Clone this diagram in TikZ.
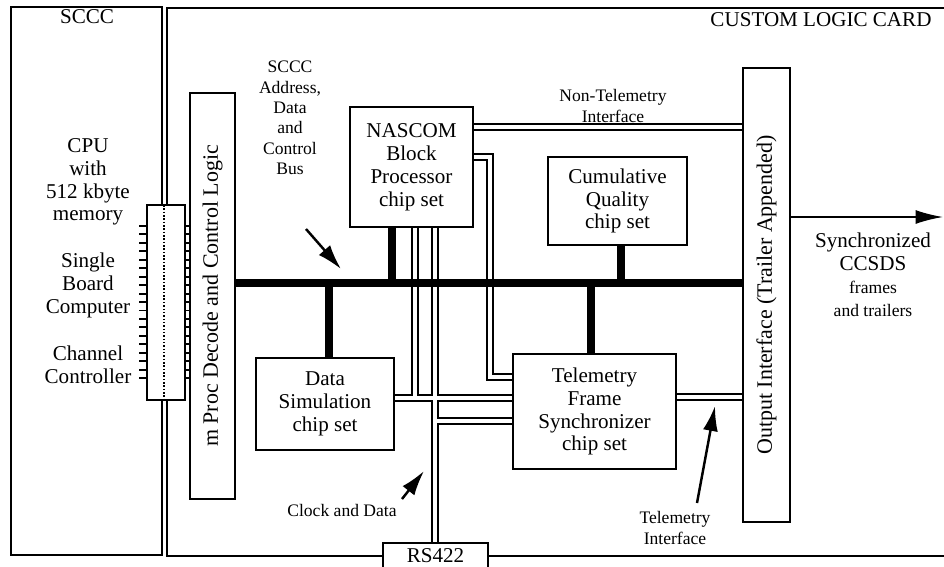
\documentclass[tikz,border=0pt]{standalone}
\usepackage{fontspec}
\setmainfont{Liberation Serif}
\usepackage{tikz}
\usetikzlibrary{arrows.meta, backgrounds}
\tikzset{
  blk/.style    ={draw, fill=white, line width=0.9pt, inner sep=0pt, outer sep=0pt, align=center, font=\fontsize{12}{13}\selectfont},
  vblk/.style   ={blk, rotate=90, font=\fontsize{12.5}{14}\selectfont},   % tall box, text runs upward
  lbl/.style    ={align=center, font=\fontsize{12}{13}\selectfont},
  sml/.style    ={align=center, font=\fontsize{10}{11.6}\selectfont},
  busln/.style  ={line width=4.2pt},                                     % SCCC bus
  tapln/.style  ={line width=4.6pt},                                     % chip set -> bus
  dblout/.style ={line width=4.2pt},                                     % interface lines, outer pass
  dblin/.style  ={line width=2.2pt, white},                              % interface lines, inner pass
  tick/.style   ={line width=1.1pt},
  ptr/.style    ={-{Latex[length=5mm, width=3mm]}, line width=1.4pt},
  outptr/.style ={-{Latex[length=5.5mm, width=2.8mm]}, line width=1pt},
}

\begin{document}
\begin{tikzpicture}[x=0.02cm, y=-0.02cm]
  \useasboundingbox (0,0) rectangle (944,566);

  % SCCC side
  \node[blk, minimum width=3.02cm, minimum height=10.96cm] (sccc) at (86.5,281) {};
  \node[lbl] (scccl) at (87,17)    {SCCC};
  \node[lbl] (cpu)   at (88,182)   {CPU\\with\\512 kbyte\\memory};
  \node[lbl] (sbc)   at (88,285.5) {Single\\Board\\Computer};
  \node[lbl] (chan)  at (88,365)   {Channel\\Controller};

  % custom logic card
  \node[lbl] (cardl) at (821,20) {CUSTOM LOGIC CARD};
  \node[vblk, minimum width=8.12cm, minimum height=0.9cm]  (decode) at (212.5,296) {m Proc Decode and Control Logic};
  \node[vblk, minimum width=9.08cm, minimum height=0.94cm] (outif)  at (766.5,295) {Output Interface (Trailer Appended)};
  \node[blk, minimum width=2.46cm, minimum height=2.4cm]  (nascom) at (411.5,167) {NASCOM\\Block\\Processor\\chip set};
  \node[blk, minimum width=2.78cm, minimum height=1.76cm] (cumq)   at (617.5,201) {Cumulative\\Quality\\chip set};
  \node[blk, minimum width=2.76cm, minimum height=1.84cm] (datsim) at (325,404)   {Data\\Simulation\\chip set};
  \node[blk, minimum width=3.26cm, minimum height=2.3cm]  (tfs)    at (594.5,411.5) {Telemetry\\Frame\\Synchronizer\\chip set};
  \node[blk, minimum width=2.1cm, minimum height=0.5cm]   (rs)     at (435.5,555.5) {RS422};

  % board connector
  \node[blk, minimum width=0.76cm, minimum height=3.9cm] (conn) at (166,302.5) {};
  \draw[densely dotted, line width=0.9pt] (conn.north -| 164,0) -- (conn.south -| 164,0);
  \foreach \k [evaluate=\k as \ty using 226+8.45*\k] in {0,...,18}
    \draw[tick] (139,\ty) -- (conn.west |- 0,\ty) (conn.east |- 0,\ty) -- (191,\ty);

  % labels
  \node[sml] (busl) at (290,118) {SCCC\\Address,\\Data\\and\\Control\\Bus};
  \node[sml] (ntl)  at (613,106) {Non-Telemetry\\Interface};
  \node[sml] (clkl) at (342,510) {Clock and Data};
  \node[sml] (tell) at (675,528) {Telemetry\\Interface};
  \node[lbl] (synca) at (873,251.5) {Synchronized\\CCSDS};
  \node[sml, font=\fontsize{10}{13}\selectfont] (syncb) at (873,298.5) {frames\\and trailers};

  % wiring
  \coordinate (bus) at (0,283);
  \def\ifacepaths{
    (nascom.east |- 0,127) -- (outif.north |- 0,127)
    (nascom.east |- 0,157) -| (490,377) -- (tfs.west |- 0,377)
    (nascom.south -| 415,0) -- (415,398)
    (datsim.east |- 0,398) -- (tfs.west |- 0,398)
    (nascom.south -| 435,0) -- (rs.north -| 435,0)
    (435,421) -- (tfs.west |- 0,421)
    (tfs.east |- 0,397) -- (outif.north |- 0,397)
  }
  \begin{scope}[on background layer]
    \draw[line width=0.9pt] (946,8) -- (167,8) -- (167,556) -- (946,556);
    \draw[dblout] \ifacepaths;
    \draw[dblin]  \ifacepaths;
    \draw[busln] (decode.south |- bus) -- (outif.north |- bus);
    \draw[tapln] (datsim.north -| 329,0) -- (bus -| 329,0);
    \draw[tapln] (nascom.south -| 392,0) -- (bus -| 392,0);
    \draw[tapln] (tfs.north -| 591,0) -- (bus -| 591,0);
    \draw[tapln] (cumq.south -| 621,0) -- (bus -| 621,0);
  \end{scope}

  % pointers
  \coordinate (busa) at (306,229);
  \coordinate (busb) at (341,269);
  \coordinate (clka) at (402,499);
  \coordinate (clkb) at (424,471);
  \coordinate (tela) at (697,503);
  \coordinate (telb) at (715,406);
  \coordinate (outtip) at (943,217);
  \draw[ptr] (busa) -- (busb);
  \draw[ptr] (clka) -- (clkb);
  \draw[ptr] (tela) -- (telb);
  \draw[outptr] (outif.south |- outtip) -- (outtip);
\end{tikzpicture}
\end{document}
